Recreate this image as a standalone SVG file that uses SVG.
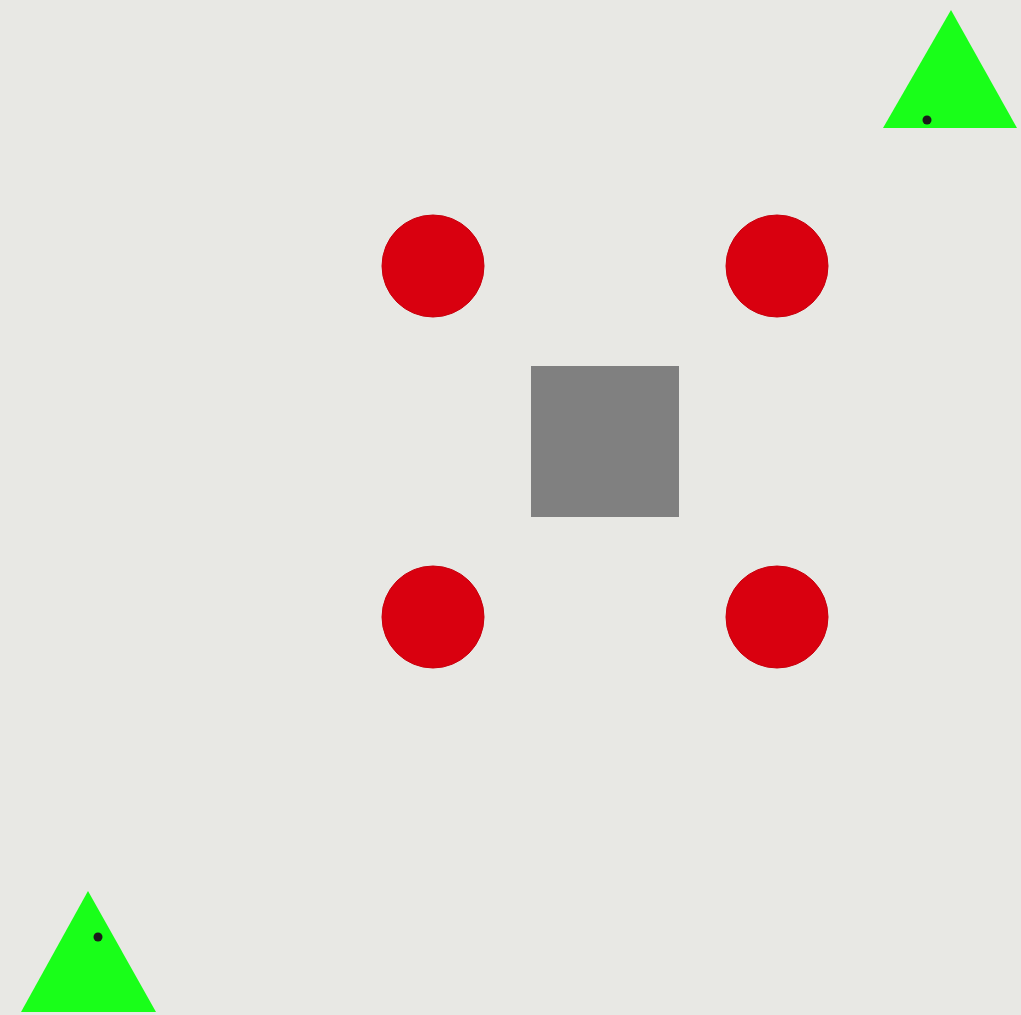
<svg xmlns="http://www.w3.org/2000/svg" width="1021" height="1015" viewBox="0 0 1021 1015">
<style>
.ball{fill:#d9000f;stroke:#c8000d;stroke-width:1}
.tri{fill:#19ff19}
.dot{fill:#1a1a1a}
</style>
<rect x="0" y="0" width="1021" height="1015" fill="#e8e8e4"/>
<g id="center-square"><rect x="531" y="366" width="148" height="151" fill="#808080"/></g>
<g id="ball-tl"><circle class="ball" cx="433" cy="266" r="51"/></g>
<g id="ball-tr"><circle class="ball" cx="777" cy="266" r="51"/></g>
<g id="ball-bl"><circle class="ball" cx="433" cy="617" r="51"/></g>
<g id="ball-br"><circle class="ball" cx="777" cy="617" r="51"/></g>
<g id="tri-tr"><polygon class="tri" points="951,10 1017,128 883,128"/><circle class="dot" cx="927" cy="120" r="4.5"/></g>
<g id="tri-bl"><polygon class="tri" points="88,891 156,1012 21,1012"/><circle class="dot" cx="98" cy="937" r="4.5"/></g>
<g id="connectors"></g>
</svg>
